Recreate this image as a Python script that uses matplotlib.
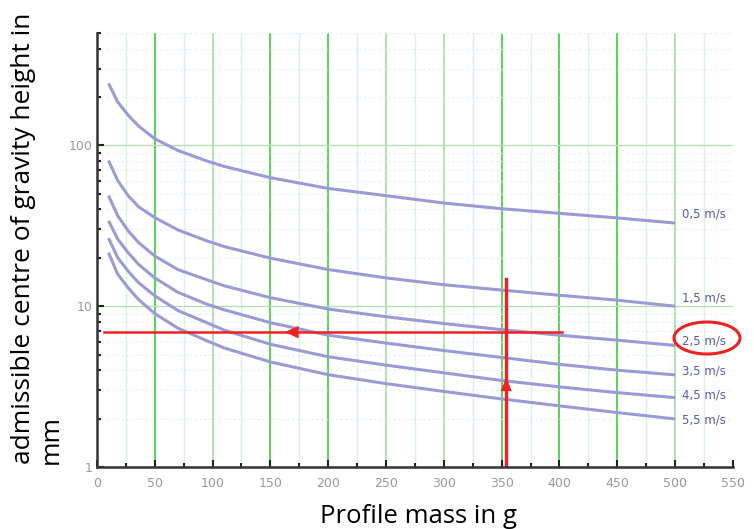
import numpy as np
import matplotlib
matplotlib.use("Agg")
import matplotlib.pyplot as plt
from matplotlib.patches import Ellipse
from matplotlib.ticker import FixedLocator, NullFormatter

# profile mass in g
mass = [10, 18, 27, 36, 50, 70, 95, 110, 150, 200, 250, 300, 350, 400, 450, 500]

# admissible centre of gravity height in mm
h_05 = [243, 186, 154, 132, 110, 93, 80, 74, 63, 54, 48.7, 43.8, 40.4, 37.8, 35.4, 32.9]
h_15 = [80.5, 60.3, 48.7, 41.5, 35.6, 29.8, 25.5, 23.5, 19.9, 16.9, 15.0, 13.6, 12.6, 11.7, 10.9, 10.0]
h_25 = [48.7, 36.5, 29.4, 24.9, 20.5, 16.9, 14.6, 13.4, 11.3, 9.6, 8.6, 7.8, 7.15, 6.6, 6.15, 5.7]
h_35 = [34, 26.1, 21.5, 18.2, 15.0, 12.2, 10.3, 9.5, 7.9, 6.6, 5.9, 5.3, 4.8, 4.35, 4.0, 3.74]
h_45 = [26.5, 20, 16.5, 14, 11.6, 9.4, 7.9, 7.1, 5.8, 4.85, 4.3, 3.85, 3.45, 3.15, 2.9, 2.7]
h_55 = [21.5, 15.8, 13.0, 11.0, 9.0, 7.3, 6.1, 5.5, 4.5, 3.75, 3.3, 2.95, 2.65, 2.4, 2.18, 1.99]

curves = [h_05, h_15, h_25, h_35, h_45, h_55]
speed_labels = ["0,5 m/s", "1,5 m/s", "2,5 m/s", "3,5 m/s", "4,5 m/s", "5,5 m/s"]
label_y = [37.6, 11.2, 6.1, 3.93, 2.82, 1.97]

x_ticks = [0, 50, 100, 150, 200, 250, 300, 350, 400, 450, 500, 550]
# the grid lines that show up brighter in the original
bright_lines = [50, 150, 200, 350, 400, 450]

# example reading (red lines)
read_mass = 354
read_height = 6.9

fig = plt.figure(figsize=(7.54, 5.29), dpi=100)
ax = fig.add_axes([0.1286, 0.1172, 0.8434, 0.8204])

ax.set_yscale("log")
ax.set_xlim(0, 550)
ax.set_ylim(1, 500)

# grid
ax.set_xticks(x_ticks)
ax.xaxis.set_minor_locator(FixedLocator(np.arange(25, 550, 50)))
ax.set_yticks([1, 10, 100])
ax.set_yticklabels(["1", "10", "100"])
ax.yaxis.set_minor_formatter(NullFormatter())
for xv in x_ticks[1:-1]:
    if xv in bright_lines:
        ax.axvline(xv, color="#5fd25f", lw=1.5, zorder=0)
    else:
        ax.axvline(xv, color="#a9dfa9", lw=1.3, zorder=0)
ax.grid(True, which="minor", axis="x", color="#dcf3dc", lw=1.0)
ax.grid(True, which="major", axis="y", color="#b5e0b5", lw=1.0)
ax.grid(True, which="minor", axis="y", color="#e3ece3", lw=0.7, ls=(0, (2, 3)))
ax.set_axisbelow(True)

for sp in ["top", "right"]:
    ax.spines[sp].set_visible(False)
for sp in ["left", "bottom"]:
    ax.spines[sp].set_linewidth(1.8)
    ax.spines[sp].set_color("#333333")

ax.tick_params(which="both", direction="in", color="#222222", labelcolor="#999999",
               labelsize=9)
ax.tick_params(which="major", length=5, width=1.5)
ax.tick_params(which="minor", length=3, width=1.5)
ax.tick_params(axis="x", pad=7)

# curves
for h, lab, ly in zip(curves, speed_labels, label_y):
    ax.plot(mass, h, color="#9a9ad4", lw=2.2, solid_capstyle="butt")
    ax.text(506, ly, lab, fontsize=8.5, color="#5a5aa8", va="center", ha="left")

# red reading lines with arrows
ax.plot([6, 402], [read_height, read_height], color="#ee2222", lw=1.8)
ax.plot([read_mass, read_mass], [1, 14.7], color="#ee2222", lw=2.4)
ax.annotate("", xy=(160, read_height), xytext=(180, read_height),
            arrowprops=dict(arrowstyle="-|>,head_length=1.0,head_width=0.45",
                            color="#ee2222", lw=0))
ax.annotate("", xy=(read_mass, 3.76), xytext=(read_mass, 3.0),
            arrowprops=dict(arrowstyle="-|>,head_length=1.0,head_width=0.4",
                            color="#ee2222", lw=0))

# circle round the 2,5 m/s label
ell = Ellipse((707 / 754, 1 - 338 / 529), 66 / 754, 32 / 529, transform=fig.transFigure,
              fill=False, edgecolor="#ee2222", lw=2.2)
fig.patches.append(ell)

fig.text(418 / 754, 1 - 523 / 529, "Profile mass in g", fontsize=18.5, ha="center",
         va="baseline", family="Open Sans")
fig.text(0.015, 1 - 238 / 529, "admissible centre of gravity height in\nmm", fontsize=19,
         rotation=90, ha="left", va="center", family="Open Sans", linespacing=1.15,
         multialignment="left")

plt.savefig("out.png", dpi=100)
